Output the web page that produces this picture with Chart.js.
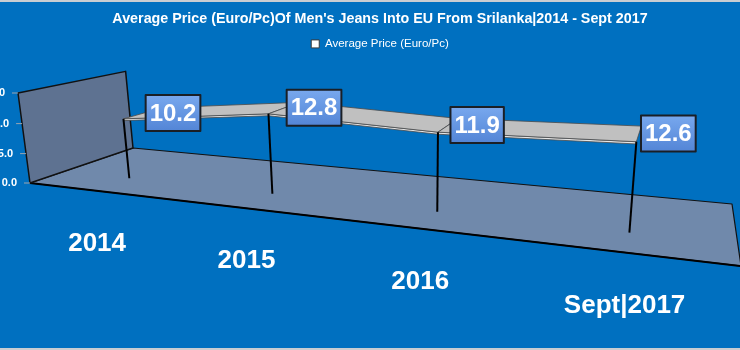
<!DOCTYPE html>
<html lang="en">
<head>
<meta charset="UTF-8">
<title>Average Price of Men's Jeans</title>
<script src="https://cdn.jsdelivr.net/npm/chart.js@4"></script>
<style>
  body { margin: 0; background: #0070C0; }
  canvas { display: block; }
</style>
</head>
<body>
<canvas id="priceChart" width="740" height="350"></canvas>
<script>
const years = ['2014', '2015', '2016', 'Sept|2017'];
const avgPrice = [10.2, 12.8, 11.9, 12.6];
const priceTicks = [0, 5, 10, 15];

// 3D box: floor corners on screen, wall height at the front-left corner,
// and the point the vertical edges run towards
const floorFL = [30, 183], floorFR = [741, 266], floorBR = [732, 204], floorBL = [133, 148];
const wallHeight = 90;
const vanish = [413, 3056];
const ribbonFront = 0.3, ribbonBack = 0.7;

// unit square (u along categories, v into depth) -> floor quad
function homography(p0, p1, p2, p3) {
    const dx1 = p1[0] - p2[0], dx2 = p3[0] - p2[0], dx3 = p0[0] - p1[0] + p2[0] - p3[0];
    const dy1 = p1[1] - p2[1], dy2 = p3[1] - p2[1], dy3 = p0[1] - p1[1] + p2[1] - p3[1];
    const den = dx1 * dy2 - dx2 * dy1;
    const g = (dx3 * dy2 - dx2 * dy3) / den;
    const h = (dx1 * dy3 - dx3 * dy1) / den;
    return {
        a: p1[0] - p0[0] + g * p1[0], b: p3[0] - p0[0] + h * p3[0], c: p0[0],
        d: p1[1] - p0[1] + g * p1[1], e: p3[1] - p0[1] + h * p3[1], f: p0[1],
        g: g, h: h
    };
}

const H = homography(floorFL, floorFR, floorBR, floorBL);
const lift = wallHeight / (vanish[1] - floorFL[1] + wallHeight);

// k = height as a fraction of the value axis
function project(u, v, k) {
    const hz = k * lift;
    const X = H.a * u + H.b * v + H.c - hz * vanish[0];
    const Y = H.d * u + H.e * v + H.f - hz * vanish[1];
    const W = H.g * u + H.h * v + 1 - hz;
    return { x: X / W, y: Y / W };
}

function poly(ctx, pts, fill, stroke, width) {
    ctx.beginPath();
    pts.forEach((p, i) => i ? ctx.lineTo(p.x, p.y) : ctx.moveTo(p.x, p.y));
    ctx.closePath();
    if (fill) { ctx.fillStyle = fill; ctx.fill(); }
    if (stroke) { ctx.strokeStyle = stroke; ctx.lineWidth = width; ctx.stroke(); }
}

const box3d = {
    id: 'box3d',
    beforeDraw(chart) {
        const ctx = chart.ctx;
        ctx.save();
        ctx.fillStyle = '#0070C0';
        ctx.fillRect(0, 0, chart.width, chart.height);
        ctx.fillStyle = '#C9CDD2';
        ctx.fillRect(0, 0, chart.width, 2);
        ctx.fillRect(0, chart.height - 2, chart.width, 2);
        ctx.restore();
    },
    afterDatasetsDraw(chart) {
        const ctx = chart.ctx;
        const area = chart.chartArea;
        const ys = chart.scales.y;
        const pts = chart.getDatasetMeta(0).data;
        const uOf = px => (px - area.left) / (area.right - area.left);
        const kOf = py => (area.bottom - py) / (area.bottom - area.top);

        ctx.save();
        ctx.lineJoin = 'round';

        // floor and back wall
        poly(ctx, [project(0, 0, 0), project(1, 0, 0), project(1, 1, 0), project(0, 1, 0)], '#7089AB', '#111', 1.2);
        const f0 = project(0, 0, 0), f1 = project(1, 0, 0);
        ctx.beginPath(); ctx.moveTo(f0.x, f0.y); ctx.lineTo(f1.x, f1.y);
        ctx.lineWidth = 2; ctx.strokeStyle = '#000'; ctx.stroke();
        poly(ctx, [project(0, 0, 0), project(0, 1, 0), project(0, 1, 1), project(0, 0, 1)], '#5E7291', '#111', 1.5);

        // value ticks along the wall's front edge
        ctx.font = "bold 11px 'Liberation Sans', Arial, sans-serif";
        ctx.textAlign = 'right';
        ctx.textBaseline = 'middle';
        priceTicks.forEach(t => {
            const p = project(0, 0, kOf(ys.getPixelForValue(t)));
            ctx.beginPath(); ctx.moveTo(p.x - 6, p.y); ctx.lineTo(p.x, p.y);
            ctx.strokeStyle = '#9AA4B0'; ctx.lineWidth = 1; ctx.stroke();
            ctx.fillStyle = '#FFFFFF';
            ctx.fillText(t.toFixed(1), p.x - 13, p.y);
        });

        const series = pts.map((el, i) => ({ u: uOf(el.x), k: kOf(el.y), value: avgPrice[i] }));

        // ribbon: top face plus a thin front face
        for (let i = 0; i < series.length - 1; i++) {
            const a = series[i], b = series[i + 1];
            const drop = 0.02;
            poly(ctx, [project(a.u, ribbonFront, a.k), project(b.u, ribbonFront, b.k),
                       project(b.u, ribbonFront, b.k - drop), project(a.u, ribbonFront, a.k - drop)],
                 '#E6E6E6', '#4A4A4A', 0.8);
            poly(ctx, [project(a.u, ribbonFront, a.k), project(b.u, ribbonFront, b.k),
                       project(b.u, ribbonBack, b.k), project(a.u, ribbonBack, a.k)],
                 '#C0C0C0', '#4A4A4A', 0.8);
        }

        // drop lines to the floor
        series.forEach(s => {
            const top = project(s.u, ribbonFront, s.k), bot = project(s.u, ribbonFront, 0);
            ctx.beginPath(); ctx.moveTo(top.x, top.y); ctx.lineTo(bot.x, bot.y);
            ctx.strokeStyle = '#000'; ctx.lineWidth = 2; ctx.stroke();
        });

        // value labels
        ctx.font = "bold 24px 'Liberation Sans', Arial, sans-serif";
        ctx.textAlign = 'center';
        series.forEach(s => {
            const p = project(s.u, (ribbonFront + ribbonBack) / 2, s.k);
            const txt = s.value.toFixed(1);
            const w = ctx.measureText(txt).width + 8, h = 36;
            const x = p.x + 2, y = p.y - h / 2;
            const grad = ctx.createLinearGradient(0, y, 0, y + h);
            grad.addColorStop(0, '#78A8EE');
            grad.addColorStop(1, '#5385D6');
            ctx.fillStyle = grad;
            ctx.fillRect(x, y, w, h);
            ctx.strokeStyle = '#1A1F26'; ctx.lineWidth = 2;
            ctx.strokeRect(x, y, w, h);
            ctx.fillStyle = '#FFFFFF';
            ctx.fillText(txt, x + w / 2, y + h / 2 + 1);
        });

        // category labels under the floor's front edge
        ctx.font = "bold 26px 'Liberation Sans', Arial, sans-serif";
        series.forEach((s, i) => {
            const p = project(s.u, 0, 0);
            ctx.fillStyle = '#FFFFFF';
            ctx.fillText(chart.data.labels[i], p.x, p.y + 53);
        });
        ctx.restore();
    }
};

Chart.defaults.font.family = "'Liberation Sans', Arial, sans-serif";

new Chart(document.getElementById('priceChart'), {
    type: 'line',
    data: {
        labels: years,
        datasets: [{
            label: 'Average Price (Euro/Pc)',
            data: avgPrice,
            showLine: false,
            pointRadius: 0,
            pointHoverRadius: 0,
            backgroundColor: '#FFFFFF',
            borderColor: '#3A3A3A',
            borderWidth: 1
        }]
    },
    options: {
        responsive: false,
        animation: false,
        events: [],
        layout: { padding: { left: 40, right: 20, top: 0, bottom: 40 } },
        scales: {
            x: { display: false, offset: true },
            y: { display: false, min: 0, max: 15, ticks: { stepSize: 5 } }
        },
        plugins: {
            title: {
                display: true,
                text: "Average Price (Euro/Pc)Of Men's Jeans Into EU From Srilanka|2014 - Sept 2017",
                color: '#FFFFFF',
                font: { size: 14.3, weight: 'bold' },
                padding: { top: 10, bottom: 1 }
            },
            legend: {
                labels: {
                    color: '#FFFFFF',
                    font: { size: 11.5 },
                    boxWidth: 8,
                    boxHeight: 8,
                    padding: 10
                }
            },
            tooltip: { enabled: false }
        }
    },
    plugins: [box3d]
});
</script>
</body>
</html>
